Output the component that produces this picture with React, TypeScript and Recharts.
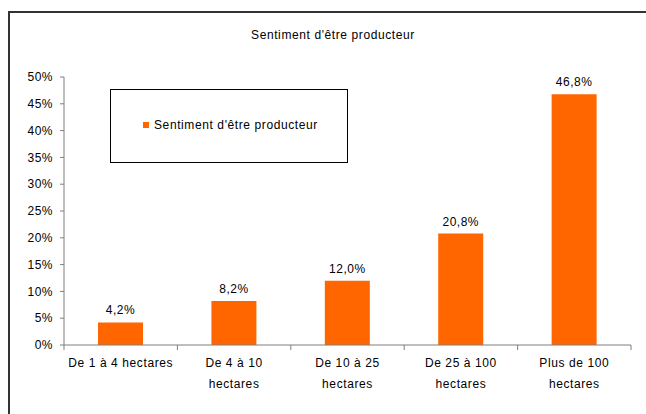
import React from 'react';
import { BarChart, Bar, XAxis, YAxis, LabelList, Legend } from 'recharts';

const categories = [
  'De 1 à 4 hectares',
  'De 4 à 10\nhectares',
  'De 10 à 25\nhectares',
  'De 25 à 100\nhectares',
  'Plus de 100\nhectares',
];
const values = [4.2, 8.2, 12.0, 20.8, 46.8];
const yTicks = [0, 5, 10, 15, 20, 25, 30, 35, 40, 45, 50];

const seriesName = "Sentiment d'être producteur";
const title = "Sentiment d'être producteur";

const data = categories.map((name, i) => ({ name, value: values[i] }));

const FONT = '"Liberation Sans", Arial, sans-serif';
const ORANGE = '#FF6600';
const AXIS = '#7f7f7f';

const fmtPct = (v: number) => `${v.toFixed(1).replace('.', ',')}%`;

// category label plus the tick marks that sit between categories (Excel style)
const CategoryTick = (props: any) => {
  const { x, y, payload, index } = props;
  const half = payload.offset || 0;
  const lines = String(payload.value).split('\n');
  return (
    <g>
      <line x1={x - half} x2={x - half} y1={y} y2={y + 5} stroke={AXIS} />
      {index === categories.length - 1 && (
        <line x1={x + half} x2={x + half} y1={y} y2={y + 5} stroke={AXIS} />
      )}
      <text
        x={x}
        y={y}
        textAnchor="middle"
        fontSize={12}
        fontFamily={FONT}
        letterSpacing={0.6}
        fill="#000"
      >
        {lines.map((line, i) => (
          <tspan key={i} x={x} dy={i === 0 ? 22 : 21}>
            {line}
          </tspan>
        ))}
      </text>
    </g>
  );
};

const LegendBox = () => (
  <div
    style={{
      width: 238,
      height: 74,
      boxSizing: 'border-box',
      border: '1px solid #000',
      background: '#fff',
      fontFamily: FONT,
      fontSize: 12,
      letterSpacing: 0.6,
      position: 'relative',
    }}
  >
    <span
      style={{
        position: 'absolute',
        left: 32,
        top: 32,
        width: 6,
        height: 6,
        background: ORANGE,
      }}
    />
    <span style={{ position: 'absolute', left: 43, top: 28, color: '#000', whiteSpace: 'nowrap' }}>
      {seriesName}
    </span>
  </div>
);

export default function App() {
  return (
    <div style={{ position: 'absolute', left: 0, top: 0, width: 646, height: 414 }}>
      <div
        style={{
          position: 'absolute',
          left: 8,
          top: 11,
          width: 638,
          height: 403,
          boxSizing: 'border-box',
          borderLeft: '2px solid #333',
          borderTop: '2px solid #333',
        }}
      />
      <div
        style={{
          position: 'absolute',
          left: 0,
          top: 28,
          width: 666,
          textAlign: 'center',
          fontFamily: FONT,
          fontSize: 12,
          letterSpacing: 0.6,
          color: '#000',
        }}
      >
        {title}
      </div>
      <div style={{ position: 'absolute', left: 0, top: 0 }}>
        <BarChart
          width={646}
          height={414}
          data={data}
          margin={{ top: 77, right: 15, bottom: 29, left: 0 }}
          barCategoryGap="30%"
        >
          <XAxis
            dataKey="name"
            height={40}
            axisLine={{ stroke: AXIS }}
            tickLine={false}
            tickSize={0}
            tickMargin={0}
            interval={0}
            tick={<CategoryTick />}
          />
          <YAxis
            width={64}
            domain={[0, 50]}
            ticks={yTicks}
            tickFormatter={(v: number) => `${v}%`}
            tickSize={4}
            tickMargin={7}
            axisLine={{ stroke: AXIS }}
            tickLine={{ stroke: AXIS }}
            tick={{ fontSize: 12, fontFamily: FONT, fill: '#000', letterSpacing: 0.5 }}
          />
          <Legend
            layout="vertical"
            align="center"
            verticalAlign="middle"
            wrapperStyle={{ position: 'absolute', left: 110, top: 89, width: 238, height: 74 }}
            content={() => <LegendBox />}
          />
          <Bar dataKey="value" name={seriesName} fill={ORANGE} isAnimationActive={false}>
            <LabelList
              dataKey="value"
              position="top"
              offset={8}
              formatter={(v: any) => fmtPct(Number(v))}
              style={{ fontSize: 12, fontFamily: FONT, fill: '#000', letterSpacing: 0.5 }}
            />
          </Bar>
        </BarChart>
      </div>
    </div>
  );
}
